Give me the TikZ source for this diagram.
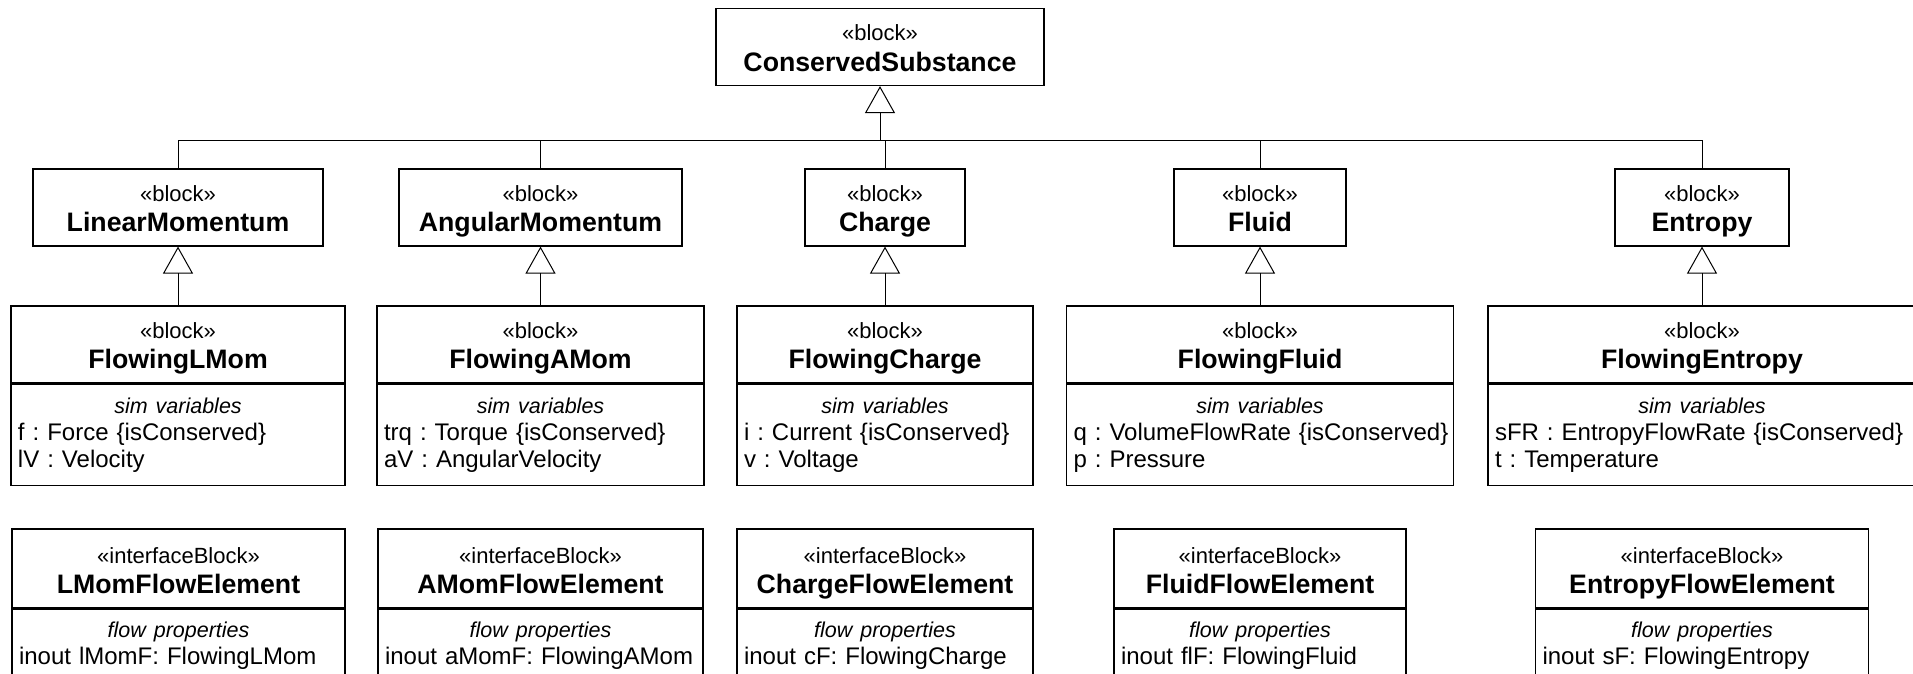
\documentclass[tikz,border=0pt]{standalone}
\usepackage{fontspec}
\setmainfont{Liberation Sans}
\usetikzlibrary{arrows.meta, positioning}
\frenchspacing

\newcommand{\stereo}[2]{«#1»\\{\fontsize{13.35}{15.3}\selectfont\bfseries #2}}
\newcommand{\comptitle}[1]{{\centering\fontsize{10.75}{13.5}\selectfont\itshape #1\par}\raggedright}

\begin{document}
\begin{tikzpicture}[x=0.5pt, y=0.5pt,
blockbox/.style={rectangle, draw, line width=0.6pt, inner sep=0pt, align=center, text height=16pt, text depth=22.5pt, font=\fontsize{11}{15.3}\selectfont},
compbox/.style={rectangle, draw, line width=0.6pt, inner xsep=3.5pt, inner ysep=0pt, text height=14.7pt, text depth=35.8pt, font=\fontsize{12}{13.5}\selectfont},
gen/.style={line width=0.5pt, -{Triangle[open, length=13.5pt, width=15pt]}},
conn/.style={line width=0.5pt}
]
\useasboundingbox (0,0) rectangle (1913,-674);

\node[blockbox, text width=164pt] (cs) at (880,-47) {\stereo{block}{ConservedSubstance}};

\node[blockbox, text width=145pt] (lm) at (178,-207.5) {\stereo{block}{LinearMomentum}};
\node[blockbox, text width=141.5pt] (am) at (540.5,-207.5) {\stereo{block}{AngularMomentum}};
\node[blockbox, text width=80pt] (ch) at (885,-207.5) {\stereo{block}{Charge}};
\node[blockbox, text width=86pt] (fl) at (1260,-207.5) {\stereo{block}{Fluid}};
\node[blockbox, text width=87pt] (en) at (1702,-207.5) {\stereo{block}{Entropy}};

\node[blockbox, text width=167pt] (flmom) at (178,-344.5) {\stereo{block}{FlowingLMom}};
\node[blockbox, text width=163.5pt] (famom) at (540.5,-344.5) {\stereo{block}{FlowingAMom}};
\node[blockbox, text width=148pt] (fcharge) at (885,-344.5) {\stereo{block}{FlowingCharge}};
\node[blockbox, text width=193.5pt] (ffluid) at (1260,-344.5) {\stereo{block}{FlowingFluid}};
\node[blockbox, text width=214pt] (fentropy) at (1702,-344.5) {\stereo{block}{FlowingEntropy}};

\node[compbox, text width=160pt, below=0pt of flmom] (flmomvars) {\comptitle{sim variables}\mbox{f : Force \{isConserved\}}\\\mbox{lV : Velocity}};
\node[compbox, text width=156.5pt, below=0pt of famom] (famomvars) {\comptitle{sim variables}\mbox{trq : Torque \{isConserved\}}\\\mbox{aV : AngularVelocity}};
\node[compbox, text width=141pt, below=0pt of fcharge] (fchargevars) {\comptitle{sim variables}\mbox{i : Current \{isConserved\}}\\\mbox{v : Voltage}};
\node[compbox, text width=186.5pt, below=0pt of ffluid] (ffluidvars) {\comptitle{sim variables}\mbox{q : VolumeFlowRate \{isConserved\}}\\\mbox{p : Pressure}};
\node[compbox, text width=207pt, below=0pt of fentropy] (fentropyvars) {\comptitle{sim variables}\mbox{sFR : EntropyFlowRate \{isConserved\}}\\\mbox{t : Temperature}};

\node[blockbox, text width=166.5pt, text height=17pt] (lmfe) at (178.5,-568.5) {\stereo{interfaceBlock}{LMomFlowElement}};
\node[blockbox, text width=162.5pt, text height=17pt] (amfe) at (540.5,-568.5) {\stereo{interfaceBlock}{AMomFlowElement}};
\node[blockbox, text width=148pt, text height=17pt] (chfe) at (885,-568.5) {\stereo{interfaceBlock}{ChargeFlowElement}};
\node[blockbox, text width=146pt, text height=17pt] (flfe) at (1260,-568.5) {\stereo{interfaceBlock}{FluidFlowElement}};
\node[blockbox, text width=166.5pt, text height=17pt] (enfe) at (1702,-568.5) {\stereo{interfaceBlock}{EntropyFlowElement}};

\node[compbox, text width=159.5pt, text height=14.2pt, text depth=26.3pt, below=0pt of lmfe] (lmfeprops) {\comptitle{flow properties}\mbox{inout lMomF: FlowingLMom}};
\node[compbox, text width=155.5pt, text height=14.2pt, text depth=26.3pt, below=0pt of amfe] (amfeprops) {\comptitle{flow properties}\mbox{inout aMomF: FlowingAMom}};
\node[compbox, text width=141pt, text height=14.2pt, text depth=26.3pt, below=0pt of chfe] (chfeprops) {\comptitle{flow properties}\mbox{inout cF: FlowingCharge}};
\node[compbox, text width=139pt, text height=14.2pt, text depth=26.3pt, below=0pt of flfe] (flfeprops) {\comptitle{flow properties}\mbox{inout flF: FlowingFluid}};
\node[compbox, text width=159.5pt, text height=14.2pt, text depth=26.3pt, below=0pt of enfe] (enfeprops) {\comptitle{flow properties}\mbox{inout sF: FlowingEntropy}};

\coordinate (bus) at (880,-141);
\draw[conn] (lm.north) |- (bus);
\draw[conn] (am.north) |- (bus);
\draw[conn] (ch.north) |- (bus);
\draw[conn] (fl.north) |- (bus);
\draw[conn] (en.north) |- (bus);
\draw[gen] (bus) -- (cs.south);

\draw[gen] (flmom.north) -- (lm.south);
\draw[gen] (famom.north) -- (am.south);
\draw[gen] (fcharge.north) -- (ch.south);
\draw[gen] (ffluid.north) -- (fl.south);
\draw[gen] (fentropy.north) -- (en.south);

\end{tikzpicture}
\end{document}
